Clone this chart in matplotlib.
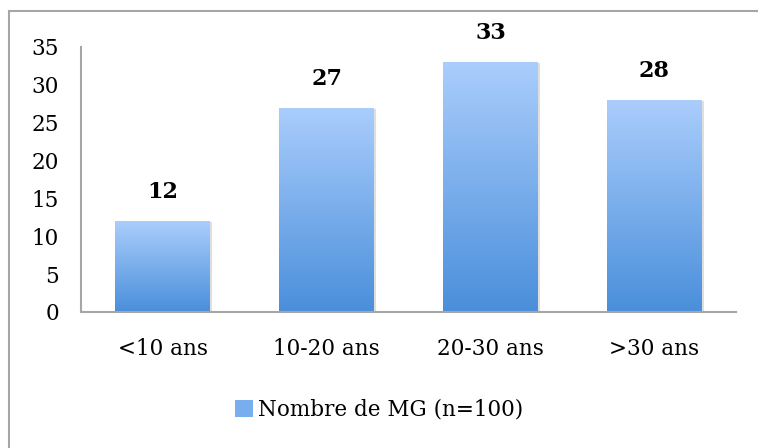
import matplotlib.pyplot as plt
import matplotlib.patches as mpatches
import numpy as np
from matplotlib.colors import LinearSegmentedColormap

categories = ['<10 ans', '10-20 ans', '20-30 ans', '>30 ans']
values = [12, 27, 33, 28]
series_name = 'Nombre de MG (n=100)'

plt.rcParams['font.family'] = ['DejaVu Serif']

fig = plt.figure(figsize=(7.58, 4.48), dpi=100)
ax = fig.add_axes([0.107, 0.3036, 0.864, 0.5915])

x = np.arange(len(categories))
bars = ax.bar(x, values, width=0.58, color='none', edgecolor='none', zorder=2)

# vertical gradient inside each bar, light on top
cmap = LinearSegmentedColormap.from_list('grad', ['#4a8fdb', '#aacdfc'])
grad = np.linspace(0, 1, 256).reshape(-1, 1)
for b in bars:
    x0, y0 = b.get_x(), b.get_y()
    w, h = b.get_width(), b.get_height()
    # soft shadow
    sh = mpatches.Rectangle((x0 + 0.012, y0), w, h - 0.15, facecolor='#c8c8c8',
                            edgecolor='none', alpha=0.6, zorder=1)
    ax.add_patch(sh)
    im = ax.imshow(grad, cmap=cmap, origin='lower', aspect='auto',
                   extent=(x0, x0 + w, y0, y0 + h), zorder=2)
    im.set_clip_path(b)

for xi, v in zip(x, values):
    ax.annotate(str(v), (xi, v), xytext=(0, 29), textcoords='offset pixels',
                ha='center', va='center', fontsize=16, fontweight='bold')

ax.set_xlim(-0.5, len(categories) - 0.5)
ax.set_ylim(0, 35)
ax.set_yticks(range(0, 36, 5))
ax.set_xticks(x)
ax.set_xticklabels(categories)
ax.tick_params(axis='both', length=0, labelsize=15.5)
ax.tick_params(axis='y', pad=16)
ax.tick_params(axis='x', pad=19)
for s in ['top', 'right']:
    ax.spines[s].set_visible(False)
for s in ['left', 'bottom']:
    ax.spines[s].set_color('#a6a6a6')
    ax.spines[s].set_linewidth(1.5)

handle = mpatches.Patch(facecolor='#78adee', edgecolor='none', label=series_name)
fig.legend(handles=[handle], loc='center', bbox_to_anchor=(0.5, 0.085),
           frameon=False, fontsize=15.5, handlelength=0.85, handleheight=0.85,
           handletextpad=0.2)

# outer frame (only top and left visible in the reference)
fig.add_artist(plt.Line2D([0.0118, 0.0118], [0, 0.975], transform=fig.transFigure,
                          color='#a6a6a6', lw=1.5))
fig.add_artist(plt.Line2D([0.0118, 1], [0.975, 0.975], transform=fig.transFigure,
                          color='#a6a6a6', lw=1.5))

fig.savefig('out.png', dpi=100)
